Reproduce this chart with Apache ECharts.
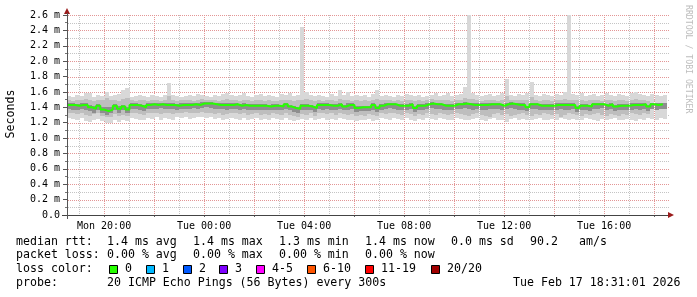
<!DOCTYPE html>
<html><head><meta charset="utf-8">
<script src="https://cdn.jsdelivr.net/npm/echarts@6/dist/echarts.min.js"></script>
<style>html,body{margin:0;padding:0;background:#fff}#c{width:697px;height:297px}</style>
</head><body><div id="c"></div>
<script>
// ---- data (ms), 10-minute bins starting Mon 18:31:01 ----
const startHour = 18 + 31/60 + 1/3600;
const binHours = 1/6;
const median = [1.43,1.43,1.42,1.43,1.43,1.40,1.38,1.42,1.37,1.35,1.37,1.42,1.38,1.41,1.37,1.43,1.43,1.42,1.40,1.43,1.44,1.43,1.44,1.43,1.43,1.43,1.42,1.43,1.43,1.43,1.44,1.43,1.45,1.45,1.45,1.44,1.43,1.43,1.43,1.43,1.44,1.42,1.43,1.42,1.42,1.42,1.42,1.42,1.41,1.42,1.42,1.41,1.44,1.41,1.39,1.38,1.42,1.42,1.41,1.39,1.43,1.43,1.43,1.42,1.42,1.44,1.41,1.43,1.43,1.39,1.40,1.40,1.40,1.43,1.39,1.42,1.44,1.44,1.44,1.42,1.42,1.42,1.44,1.39,1.42,1.42,1.44,1.45,1.44,1.44,1.42,1.42,1.42,1.44,1.44,1.45,1.44,1.43,1.43,1.43,1.43,1.44,1.44,1.44,1.42,1.44,1.45,1.44,1.43,1.43,1.40,1.44,1.44,1.42,1.42,1.42,1.42,1.43,1.43,1.43,1.43,1.43,1.39,1.42,1.42,1.41,1.44,1.44,1.44,1.42,1.44,1.41,1.42,1.42,1.42,1.43,1.43,1.43,1.44,1.41,1.44,1.43,1.44,1.44];
const outerHi = [1.55,1.54,1.56,1.55,1.58,1.58,1.54,1.56,1.55,1.60,1.55,1.56,1.57,1.63,1.65,1.54,1.55,1.56,1.55,1.54,1.56,1.55,1.54,1.56,1.71,1.56,1.55,1.54,1.55,1.56,1.55,1.57,1.56,1.55,1.54,1.56,1.55,1.57,1.58,1.56,1.55,1.56,1.58,1.55,1.54,1.56,1.57,1.55,1.56,1.55,1.54,1.57,1.56,1.58,1.55,1.56,2.45,1.60,1.56,1.55,1.56,1.55,1.54,1.57,1.55,1.62,1.56,1.60,1.55,1.56,1.55,1.56,1.54,1.57,1.62,1.55,1.56,1.55,1.54,1.56,1.55,1.57,1.56,1.55,1.56,1.54,1.55,1.56,1.58,1.55,1.56,1.58,1.55,1.56,1.57,1.67,3.00,1.58,1.56,1.55,1.56,1.57,1.55,1.56,1.58,1.77,1.56,1.55,1.57,1.56,1.58,1.73,1.56,1.55,1.57,1.56,1.55,1.57,1.56,1.60,3.00,1.57,1.56,1.58,1.55,1.56,1.57,1.55,1.56,1.58,1.56,1.55,1.57,1.56,1.55,1.58,1.60,1.57,1.56,1.55,1.57,1.56,1.55,1.56];
const outerLo = [1.26,1.25,1.24,1.26,1.22,1.21,1.23,1.25,1.22,1.19,1.20,1.23,1.21,1.24,1.22,1.26,1.25,1.23,1.24,1.26,1.25,1.27,1.24,1.26,1.25,1.24,1.27,1.26,1.28,1.25,1.26,1.27,1.28,1.26,1.27,1.25,1.26,1.24,1.25,1.26,1.25,1.24,1.26,1.23,1.25,1.26,1.24,1.25,1.23,1.26,1.25,1.24,1.26,1.23,1.22,1.24,1.25,1.24,1.26,1.23,1.25,1.26,1.24,1.25,1.23,1.26,1.25,1.24,1.23,1.22,1.24,1.23,1.25,1.22,1.24,1.26,1.25,1.24,1.26,1.25,1.24,1.26,1.23,1.22,1.25,1.24,1.26,1.25,1.24,1.26,1.25,1.23,1.24,1.26,1.25,1.24,1.23,1.25,1.26,1.24,1.22,1.25,1.26,1.24,1.23,1.21,1.25,1.26,1.24,1.25,1.24,1.23,1.25,1.26,1.24,1.23,1.25,1.24,1.26,1.25,1.24,1.25,1.23,1.24,1.26,1.25,1.24,1.22,1.25,1.24,1.25,1.26,1.24,1.23,1.25,1.24,1.22,1.25,1.24,1.26,1.25,1.24,1.26,1.25];
const midHi = [1.49,1.48,1.50,1.49,1.51,1.50,1.48,1.49,1.50,1.52,1.49,1.50,1.48,1.51,1.52,1.49,1.48,1.50,1.49,1.48,1.50,1.49,1.48,1.50,1.55,1.49,1.48,1.49,1.50,1.49,1.48,1.50,1.51,1.50,1.49,1.50,1.48,1.49,1.51,1.50,1.49,1.48,1.50,1.49,1.48,1.49,1.50,1.48,1.49,1.48,1.48,1.50,1.49,1.50,1.48,1.49,1.50,1.51,1.49,1.48,1.49,1.48,1.50,1.49,1.48,1.51,1.49,1.50,1.48,1.49,1.48,1.49,1.48,1.50,1.51,1.49,1.50,1.49,1.48,1.49,1.48,1.50,1.49,1.48,1.49,1.48,1.50,1.51,1.50,1.49,1.49,1.50,1.48,1.49,1.50,1.52,1.51,1.51,1.49,1.48,1.49,1.50,1.49,1.48,1.50,1.55,1.50,1.49,1.50,1.49,1.50,1.54,1.49,1.48,1.50,1.49,1.48,1.50,1.49,1.51,1.50,1.50,1.49,1.50,1.48,1.49,1.50,1.49,1.48,1.50,1.49,1.48,1.50,1.49,1.48,1.50,1.51,1.50,1.49,1.48,1.50,1.49,1.48,1.49];
const midLo = [1.33,1.32,1.31,1.33,1.30,1.29,1.31,1.32,1.29,1.27,1.28,1.31,1.29,1.30,1.29,1.33,1.32,1.31,1.30,1.33,1.32,1.33,1.31,1.32,1.33,1.31,1.32,1.33,1.34,1.32,1.33,1.32,1.34,1.33,1.32,1.31,1.32,1.30,1.31,1.32,1.32,1.31,1.33,1.30,1.31,1.32,1.30,1.31,1.30,1.32,1.31,1.30,1.32,1.30,1.29,1.28,1.31,1.30,1.32,1.29,1.32,1.33,1.31,1.32,1.30,1.32,1.31,1.30,1.31,1.29,1.30,1.29,1.31,1.30,1.29,1.32,1.31,1.32,1.33,1.31,1.30,1.32,1.31,1.29,1.31,1.30,1.32,1.31,1.30,1.32,1.31,1.30,1.31,1.32,1.31,1.30,1.29,1.31,1.32,1.30,1.29,1.28,1.31,1.32,1.30,1.31,1.29,1.30,1.31,1.32,1.30,1.29,1.31,1.30,1.32,1.31,1.30,1.31,1.28,1.30,1.32,1.31,1.30,1.29,1.31,1.30,1.31,1.32,1.30,1.29,1.31,1.30,1.29,1.31,1.30,1.32,1.31,1.30,1.32,1.31];
const coreHi = [1.45,1.45,1.44,1.45,1.45,1.43,1.42,1.44,1.41,1.40,1.41,1.44,1.42,1.43,1.41,1.45,1.45,1.44,1.43,1.45,1.46,1.45,1.46,1.45,1.45,1.45,1.44,1.45,1.45,1.45,1.46,1.45,1.47,1.47,1.47,1.46,1.45,1.45,1.45,1.45,1.46,1.44,1.45,1.44,1.44,1.44,1.44,1.44,1.43,1.44,1.44,1.43,1.46,1.43,1.42,1.41,1.44,1.44,1.43,1.42,1.45,1.45,1.45,1.44,1.44,1.46,1.43,1.45,1.45,1.42,1.42,1.42,1.42,1.45,1.42,1.44,1.46,1.46,1.46,1.44,1.44,1.44,1.46,1.42,1.44,1.44,1.46,1.47,1.46,1.46,1.44,1.44,1.44,1.46,1.46,1.47,1.46,1.45,1.45,1.45,1.45,1.46,1.46,1.46,1.44,1.46,1.47,1.46,1.45,1.45,1.42,1.46,1.46,1.44,1.44,1.44,1.44,1.45,1.45,1.45,1.45,1.45,1.42,1.44,1.44,1.43,1.46,1.46,1.46,1.44,1.46,1.43,1.44,1.44,1.44,1.45,1.45,1.45,1.46,1.43,1.46,1.45,1.46,1.46];
const coreLo = [1.38,1.37,1.37,1.38,1.37,1.35,1.33,1.37,1.32,1.30,1.32,1.37,1.33,1.36,1.32,1.38,1.38,1.37,1.35,1.38,1.38,1.38,1.39,1.38,1.38,1.38,1.37,1.38,1.38,1.38,1.39,1.38,1.39,1.40,1.39,1.38,1.38,1.38,1.37,1.38,1.38,1.37,1.38,1.37,1.36,1.37,1.37,1.37,1.36,1.37,1.36,1.36,1.38,1.36,1.34,1.33,1.37,1.37,1.36,1.34,1.38,1.37,1.38,1.37,1.36,1.38,1.36,1.37,1.38,1.34,1.35,1.35,1.35,1.37,1.34,1.37,1.38,1.39,1.38,1.37,1.37,1.37,1.38,1.34,1.37,1.36,1.38,1.39,1.38,1.38,1.37,1.36,1.37,1.38,1.38,1.39,1.38,1.37,1.38,1.37,1.37,1.38,1.38,1.38,1.36,1.38,1.39,1.38,1.37,1.37,1.35,1.38,1.38,1.36,1.37,1.36,1.37,1.37,1.38,1.37,1.37,1.38,1.34,1.36,1.37,1.35,1.38,1.38,1.39,1.36,1.38,1.35,1.36,1.37,1.36,1.37,1.38,1.37,1.38,1.35,1.38,1.37,1.38,1.38];

const hourTicks = [19,20,21,22,23,24,25,26,27,28,29,30,31,32,33,34,35,36,37,38,39,40,41,42];
const majorHours = [20,22,24,26,28,30,32,34,36,38,40,42];
const labelHours = [20,24,28,32,36,40];
const labelTexts = ['Mon 20:00','Tue 00:00','Tue 04:00','Tue 08:00','Tue 12:00','Tue 16:00'];
const yTicks = ['0.0','0.2 m','0.4 m','0.6 m','0.8 m','1.0 m','1.2 m','1.4 m','1.6 m','1.8 m','2.0 m','2.2 m','2.4 m','2.6 m'];
const yMajorVals = [0.2,0.4,0.6,0.8,1.0,1.2,1.4,1.6,1.8,2.0,2.2,2.4,2.6];
const yMinorVals = [0.1,0.3,0.5,0.7,0.9,1.1,1.3,1.5,1.7,1.9,2.1,2.3,2.5];

const statsRtt = ['1.4 ms avg','1.4 ms max','1.3 ms min','1.4 ms now','0.0 ms sd','90.2','am/s'];
const statsLoss = ['0.00 % avg','0.00 % max','0.00 % min','0.00 % now'];
const lossLabels = ['0','1','2','3','4-5','6-10','11-19','20/20'];
const lossColors = ['#26ff00','#00b8ff','#0059ff','#7e00ff','#ff00ff','#ff5500','#ff0000','#a10000'];
const probeText = '20 ICMP Echo Pings (56 Bytes) every 300s';
const stampText = 'Tue Feb 17 18:31:01 2026';

// ---- build ----
const GRID_MINOR = '#c4c4c4';
const GRID_MAJOR = '#e39696';
const t = median.map((_, i) => startHour + i * binHours);
function band(lo, hi, color) {
  return {
    type:'custom', silent:true, animation:false, z:2,
    data: lo.map((v, i) => [t[i], v, hi[i]]),
    encode:{x:0, y:[1,2]},
    renderItem:(params, api) => {
      const x0 = api.value(0);
      const pHi = api.coord([x0, api.value(2)]);
      const pLo = api.coord([x0 + binHours, api.value(1)]);
      const xa = Math.round(pHi[0]), xb = Math.round(pLo[0]);
      const cs = params.coordSys;
      const r = echarts.graphic.clipRectByRect(
        {x:xa, y:Math.round(pHi[1]), width:xb - xa, height:Math.round(pLo[1]) - Math.round(pHi[1])},
        {x:cs.x, y:cs.y, width:cs.width, height:cs.height});
      return r ? {type:'rect', shape:r, style:{fill:color}} : null;
    }
  };
}
// dotted grid lines (1 px on / 1 px off) drawn through the axis scales
function vGrid(hours, color, z) {
  return {
    type:'custom', silent:true, animation:false, z:z,
    data: hours.map(h => [h]), encode:{x:0},
    renderItem:(params, api) => {
      const p = api.coord([api.value(0), 0]);
      const cs = params.coordSys;
      const x = Math.round(p[0]);
      const kids = [];
      for (let y = Math.round(cs.y); y < cs.y + cs.height; y += 2)
        kids.push({type:'rect', shape:{x:x, y:y, width:1, height:1}, style:{fill:color}});
      return {type:'group', children:kids};
    }
  };
}
function hGrid(vals, color, z) {
  return {
    type:'custom', silent:true, animation:false, z:z,
    data: vals.map(v => [0, v]), encode:{y:1},
    renderItem:(params, api) => {
      const p = api.coord([startHour, api.value(1)]);
      const cs = params.coordSys;
      const y = Math.round(p[1]);
      const kids = [];
      for (let x = Math.round(cs.x) + 1; x < cs.x + cs.width + 2; x += 2)
        kids.push({type:'rect', shape:{x:x, y:y, width:1, height:1}, style:{fill:color}});
      return {type:'group', children:kids};
    }
  };
}

const MONO = 'DejaVu Sans Mono';
const FS = 11.6;
const txt = (x, y, s) => ({type:'text', x:x, y:y, silent:true,
  style:{text:s, fill:'#000', font: FS + 'px "' + MONO + '"', textVerticalAlign:'middle'}});

const graphics = [];
graphics.push(txt(16, 241.5, 'median rtt:'));
const rttX = [107,193,279,365,451,530,579];
statsRtt.forEach((s, i) => graphics.push(txt(rttX[i], 241.5, s)));
graphics.push(txt(16, 255, 'packet loss:'));
statsLoss.forEach((s, i) => graphics.push(txt(rttX[i], 255, s)));
graphics.push(txt(16, 269, 'loss color:'));
const boxX = [109,146,183,219,256,307,365,431];
lossLabels.forEach((s, i) => {
  graphics.push({type:'rect', silent:true, shape:{x:boxX[i]+0.5, y:265.5, width:8, height:8},
    style:{fill:lossColors[i], stroke:'#000', lineWidth:1}});
  graphics.push(txt(boxX[i] + 16, 269, s));
});
graphics.push(txt(16, 282.5, 'probe:'));
graphics.push(txt(107, 282.5, probeText));
graphics.push(txt(513, 282.5, stampText));
graphics.push({type:'text', x:11, y:114, rotation:Math.PI/2, silent:true,
  style:{text:'Seconds', fill:'#000', font: FS + 'px "' + MONO + '"', textAlign:'center', textVerticalAlign:'middle'}});
graphics.push({type:'text', x:688, y:5, rotation:-Math.PI/2, silent:true,
  style:{text:'RRDTOOL / TOBI OETIKER', fill:'#bdbdbd', font: '8.2px "' + MONO + '"', textAlign:'left', textVerticalAlign:'middle'}});
graphics.push({type:'polygon', silent:true, z:10, shape:{points:[[64,14],[70,14],[67,8]]}, style:{fill:'#9b1c1c'}});
graphics.push({type:'polygon', silent:true, z:10, shape:{points:[[668,212],[668,218],[674,215]]}, style:{fill:'#9b1c1c'}});
graphics.push({type:'line', silent:true, z:10, shape:{x1:62, y1:215.5, x2:668, y2:215.5}, style:{stroke:'#444', lineWidth:1}});
graphics.push({type:'line', silent:true, z:10, shape:{x1:67.5, y1:219, x2:67.5, y2:13}, style:{stroke:'#555', lineWidth:1}});

const chart = echarts.init(document.getElementById('c'), null, {renderer:'canvas'});
chart.setOption({
  animation:false,
  backgroundColor:'#ffffff',
  grid:{left:67, top:15, width:600, height:200, containLabel:false},
  xAxis:{
    type:'value', min:startHour, max:startHour + 24,
    axisLine:{show:false},
    axisTick:{show:true, customValues:majorHours, length:2, lineStyle:{color:'#666'}},
    axisLabel:{show:true, customValues:labelHours, margin:6, color:'#000',
      fontFamily:MONO, fontSize:10,
      formatter:v => { const k = labelHours.indexOf(Math.round(v)); return k >= 0 ? labelTexts[k] : ''; }},
    splitLine:{show:false}
  },
  yAxis:{
    type:'value', min:0, max:2.6, interval:0.2,
    axisLine:{show:false},
    axisTick:{show:true, length:4, lineStyle:{color:'#555'}},
    minorTick:{show:true, splitNumber:2, length:2, lineStyle:{color:'#777'}},
    axisLabel:{margin:7, color:'#000', fontFamily:MONO, fontSize:10,
      formatter:v => yTicks[Math.round(v / 0.2)]},
    splitLine:{show:false}
  },
  series:[
    hGrid(yMinorVals, GRID_MINOR, 0),
    vGrid(hourTicks.filter(h => majorHours.indexOf(h) < 0), GRID_MINOR, 0),
    hGrid(yMajorVals, GRID_MAJOR, 1),
    vGrid(majorHours, GRID_MAJOR, 1),
    band(outerLo, outerHi, '#d8d8d8'),
    band(midLo, midHi, '#bebebe'),
    band(coreLo, coreHi, '#8e8e8e'),
    {type:'line', step:'end', symbol:'none', silent:true, animation:false, z:3,
     lineStyle:{color:lossColors[0], width:2}, data: median.map((v, i) => [t[i], v])}
  ],
  graphic: graphics
});
</script></body></html>
